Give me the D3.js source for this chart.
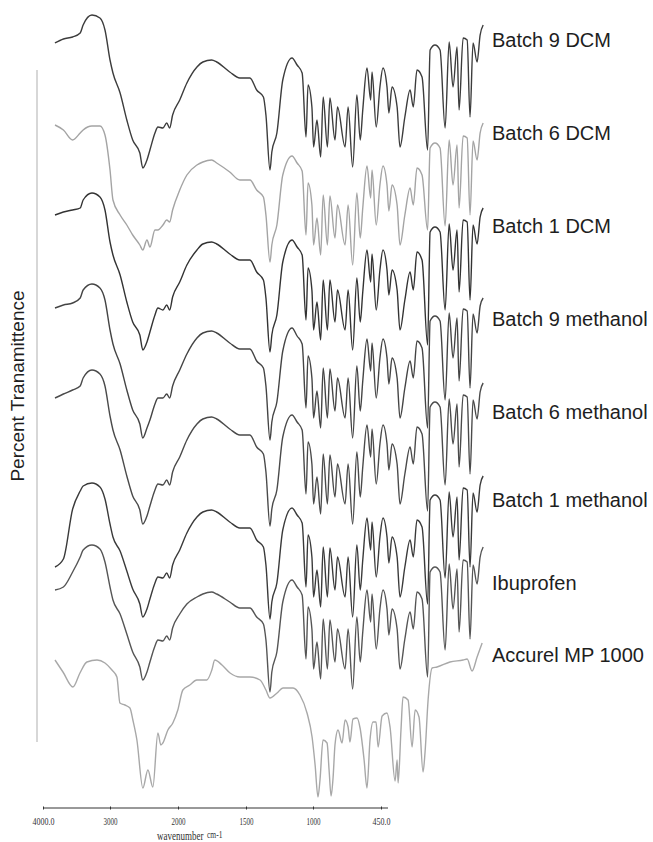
<!DOCTYPE html>
<html><head><meta charset="utf-8">
<script src="https://cdn.jsdelivr.net/npm/d3@7"></script>
<style>body{margin:0;background:#fff}svg{display:block}</style>
</head><body>
<svg id="chart" width="653" height="842"></svg>
<script>
// FTIR spectra of ibuprofen / Accurel MP 1000 formulations, stacked.
const seriesNames = ["Batch 9 DCM", "Batch 6 DCM", "Batch 1 DCM", "Batch 9 methanol",
  "Batch 6 methanol", "Batch 1 methanol", "Ibuprofen", "Accurel MP 1000"];

// Wavenumber grid (cm-1) shared by the ibuprofen-containing spectra
const wavenumbers = [4000,3900,3790,3700,3665,3560,3465,3405,3345,3310,3225,3145,3075,2990,2955,2905,2870,2810,2775,2715,
  2670,2635,2600,2515,2430,2310,2240,2135,2075,1960,1900,1840,1800,1760,1745,1721,1710,1680,1645,1590,
  1560,1530,1507,1495,1472,1462,1442,1420,1405,1380,1365,1335,1320,1275,1257,1230,1205,1185,1170,1145,
  1123,1115,1090,1068,1050,1026,1015,996,966,949,920,889,870,848,818,785,770,741,711,681,
  657,634,610,598,574,550,533,515,491,473,455];

// Transmittance readings (relative units) on that grid
const batch9DCM = [157,161,163,167,175,185,182,170,140,127,107,80,60,47,32,40,50,67,73,72,
  77,72,85,100,117,133,138,140,138,128,122,122,110,103,85,30,48,67,120,142,
  135,127,63,115,93,53,80,43,103,53,102,60,93,53,93,33,105,60,90,132,
  100,128,73,113,132,113,87,113,93,53,83,110,93,130,123,50,150,155,150,72,
  158,113,153,90,162,160,83,157,138,165,175];
const batch6DCM = [165,160,150,157,160,164,164,155,120,90,75,65,55,45,40,50,43,60,60,65,
  70,68,80,100,115,125,128,130,127,118,110,110,100,93,75,28,45,65,115,134,
  127,119,55,107,85,45,72,35,95,45,94,52,85,45,85,25,97,52,82,124,
  92,120,65,105,124,105,79,105,85,45,75,102,85,122,115,60,142,147,142,64,
  150,105,145,82,154,152,75,149,130,157,167];
const batch1DCM = [165,168,170,172,180,187,183,170,138,125,105,78,58,45,30,38,48,65,72,70,
  75,70,83,98,115,130,136,138,136,126,120,120,108,100,82,28,45,65,118,140,
  133,125,60,112,90,50,78,40,100,50,100,58,90,50,90,30,102,58,88,130,
  98,126,70,110,130,110,85,110,90,50,80,108,90,128,120,35,148,153,148,70,
  156,110,150,88,160,158,80,155,136,163,172];
const batch9Methanol = [160,163,165,170,178,184,180,168,138,124,104,78,58,44,30,40,48,64,70,70,
  74,70,82,98,114,130,135,137,135,125,119,119,107,100,82,28,46,66,117,140,
  132,124,60,112,90,50,77,40,100,50,99,57,90,50,90,30,102,57,87,129,
  97,125,70,110,129,110,84,110,90,50,80,107,90,127,120,40,147,152,147,68,
  155,110,150,87,159,157,80,154,135,162,170];
const batch6Methanol = [158,162,166,170,178,186,182,170,140,126,106,80,60,46,32,40,50,66,72,71,
  76,71,84,99,116,132,137,139,137,127,121,121,109,102,84,30,47,66,119,141,
  134,126,62,114,92,52,79,42,102,52,101,59,92,52,92,32,104,59,89,131,
  99,127,72,112,131,112,86,112,92,52,82,109,92,129,122,45,149,154,149,71,
  157,112,152,89,161,159,82,156,137,164,173];
const batch1Methanol = [82,90,140,158,163,166,162,150,125,112,98,78,60,45,32,40,50,66,72,71,
  76,71,84,99,116,132,137,139,137,127,121,121,109,102,84,30,47,66,119,141,
  134,126,62,114,92,52,79,42,102,52,101,59,92,52,92,32,104,59,89,131,
  99,127,72,112,131,112,86,112,92,52,82,109,92,129,122,45,149,154,149,71,
  157,112,152,89,161,159,82,156,137,164,173];
const ibuprofen = [122,125,140,155,162,167,163,150,125,112,98,78,60,45,32,40,50,66,72,71,
  76,72,84,98,108,115,118,120,118,110,104,104,95,88,72,20,40,60,110,132,
  125,117,53,105,83,43,70,33,93,43,92,50,83,43,83,23,95,50,80,122,
  90,118,63,103,122,103,77,103,83,43,73,100,83,120,113,35,140,145,140,62,
  148,103,143,80,152,150,73,147,128,155,165];

// Accurel MP 1000 (polypropylene) on its own grid
const accurelWavenumbers = [4000,3905,3786,3703,3620,3500,3405,3322,3263,3227,3168,3108,3073,3025,2954,2894,2835,2775,2740,2716,
  2656,2597,2538,2478,2395,2312,2193,2133,2098,2012,1958,1899,1840,1780,1745,1721,1679,1644,1584,1543,
  1501,1471,1453,1436,1424,1406,1382,1370,1358,1346,1335,1317,1293,1275,1257,1246,1228,1204,1186,1162,
  1145,1127,1109,1091,1079,1055,1026,1008,978,966,960,943,931,901,877,859,836,812,800,782,
  758,729,652,574,550,521,491,461];
const accurelMP1000 = [140,128,113,127,138,140,137,130,123,97,95,92,80,60,12,30,13,67,55,57,
  70,77,90,110,115,120,120,130,140,135,127,123,123,120,110,102,107,112,112,105,
  87,63,35,3,20,60,57,30,4,23,55,70,57,80,73,58,81,82,72,40,
  12,60,78,78,53,84,87,73,19,40,17,70,103,100,53,90,83,28,48,100,
  132,133,138,140,141,129,143,157];

const axisTicks = [4000, 3000, 2000, 1500, 1000, 450];
const axisTickLabels = ["4000.0", "3000", "2000", "1500", "1000", "450.0"];

// ---- layout ----
const spectraValues = [batch9DCM, batch6DCM, batch1DCM, batch9Methanol, batch6Methanol, batch1Methanol, ibuprofen, accurelMP1000];
const spectraGrids = [wavenumbers, wavenumbers, wavenumbers, wavenumbers, wavenumbers, wavenumbers, wavenumbers, accurelWavenumbers];
const stackShift = [0, 90, 180, 268, 356, 449, 512, 600];
const strokeColors = ["#3c3c3c", "#a4a4a4", "#333333", "#444444", "#4a4a4a", "#3a3a3a", "#555555", "#a8a8a8"];
const labelBaselines = [47, 140, 233, 326, 419, 507, 590, 662];

const svg = d3.select("#chart");

// spectra are plotted with the usual 2x expansion below 2000 cm-1
const x = d3.scaleLinear().domain([4000, 2000, 450]).range([55, 223, 484]);
const y = d3.scaleLinear().domain([0, 200]).range([200, 0]);
const xAxisScale = d3.scaleLinear().domain(axisTicks).range([43, 110, 178, 246, 313, 381]);

const line = d3.line()
  .x(d => x(d[0]))
  .y(d => y(d[1]))
  .curve(d3.curveMonotoneX);

const traces = svg.append("g").attr("class", "traces");
spectraValues.forEach((vals, i) => {
  const pts = spectraGrids[i].map((w, k) => [w, vals[k]]);
  traces.append("path")
    .attr("transform", `translate(0,${stackShift[i]})`)
    .attr("d", line(pts))
    .attr("fill", "none")
    .attr("stroke", strokeColors[i])
    .attr("stroke-width", 1.4)
    .attr("stroke-linejoin", "round");
});

// series labels
svg.append("g").selectAll("text").data(seriesNames).join("text")
  .attr("x", 492)
  .attr("y", (d, i) => labelBaselines[i])
  .attr("font-family", "'Liberation Sans', Arial, sans-serif")
  .attr("font-size", 20)
  .attr("fill", "#1e1e1e")
  .text(d => d);

// left rule
svg.append("line")
  .attr("x1", 37).attr("x2", 37).attr("y1", 70).attr("y2", 742)
  .attr("stroke", "#cdcdcd").attr("stroke-width", 1.6);

// y title
svg.append("text")
  .attr("transform", "translate(24,386) rotate(-90)")
  .attr("text-anchor", "middle")
  .attr("font-family", "'Liberation Sans', Arial, sans-serif")
  .attr("font-size", 19)
  .attr("fill", "#1e1e1e")
  .text("Percent Tranamittence");

// wavenumber axis
const axisG = svg.append("g")
  .attr("transform", "translate(0,808)")
  .call(d3.axisBottom(xAxisScale).tickValues(axisTicks).tickSizeInner(3).tickSizeOuter(0)
    .tickFormat((d, i) => axisTickLabels[i]));
axisG.select(".domain").remove();
axisG.insert("line", ":first-child")
  .attr("x1", xAxisScale.range()[0]).attr("x2", xAxisScale.range()[5] + 7)
  .attr("stroke", "#333").attr("stroke-width", 1);
axisG.selectAll(".tick line").attr("y1", -1.5).attr("y2", 1.5).attr("stroke", "#333");
const labelWidths = [22, 14, 14, 14, 14, 18];
axisG.selectAll(".tick text")
  .attr("y", 17).attr("dy", 0)
  .attr("font-family", "'Liberation Serif', 'Times New Roman', serif")
  .attr("font-size", 10.5)
  .attr("fill", "#333")
  .attr("textLength", (d, i) => labelWidths[i])
  .attr("lengthAdjust", "spacingAndGlyphs");

// axis title: narrow serif, stretched vertically; unit slightly smaller and raised
svg.append("text")
  .attr("transform", "translate(157,840) scale(1,1.35)")
  .attr("font-family", "'Liberation Serif', 'Times New Roman', serif")
  .attr("font-size", 9)
  .attr("fill", "#333")
  .text("wavenumber");
svg.append("text")
  .attr("transform", "translate(207,838) scale(1,1.3)")
  .attr("font-family", "'Liberation Serif', 'Times New Roman', serif")
  .attr("font-size", 7.5)
  .attr("fill", "#333")
  .text("cm-1");
</script>
</body></html>
